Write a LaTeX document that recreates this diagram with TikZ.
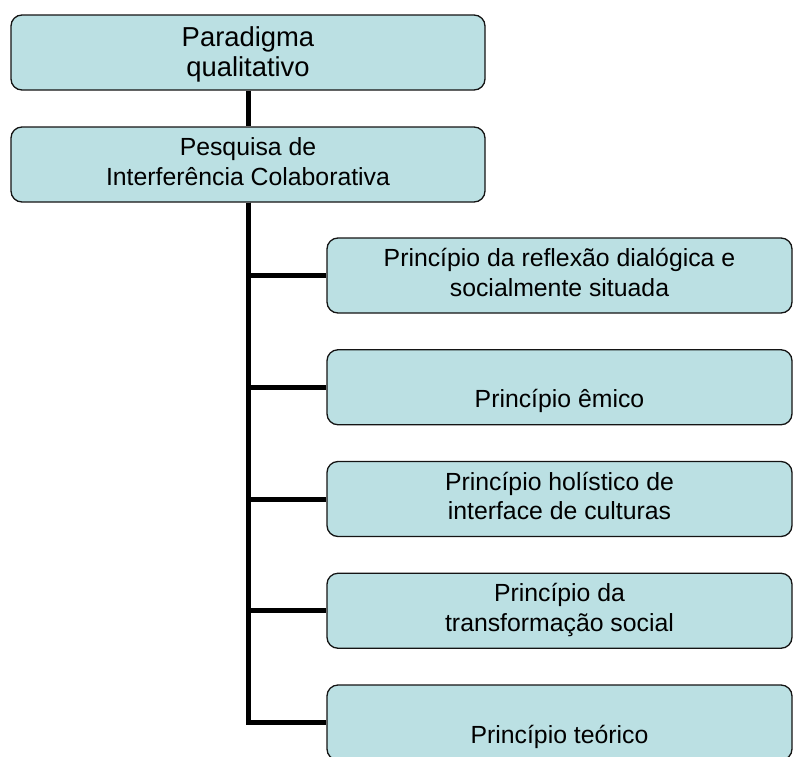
\documentclass[tikz,border=0pt]{standalone}
\usepackage{fontspec}
\setmainfont{Liberation Sans}
\definecolor{boxfill}{RGB}{187,224,227}
\definecolor{boxline}{RGB}{20,20,20}
\newcommand\lineT[1]{\smash{#1}}
\begin{document}
\begin{tikzpicture}[x=1pt,y=-1pt,
  box/.style={draw=boxline, line width=1.3pt, fill=boxfill, rounded corners=11pt,
    inner sep=0pt, font=\fontsize{24.8}{29.3}\selectfont},
  topbox/.style={box, minimum width=474pt, minimum height=75pt},
  childbox/.style={box, minimum width=465pt, minimum height=75pt},
  conn/.style={draw=black, line width=5pt}]
\useasboundingbox (0,0) rectangle (793,756);
\node[topbox, font=\fontsize{27.4}{30}\selectfont] (top1) at (248,52.5) {\begin{tabular}{@{}c@{}}\noalign{\vskip6.6pt}\lineT{Paradigma}\\\lineT{qualitativo}\end{tabular}};
\node[topbox] (top2) at (248,164.5) {\begin{tabular}{@{}c@{}}\lineT{Pesquisa de}\\\lineT{Interferência Colaborativa}\end{tabular}};
\draw[conn] (top1.south) -- (top2.north);
\node[childbox] (c1) at (559.5,275.5) {\begin{tabular}{@{}c@{}}\lineT{Princípio da reflexão dialógica e}\\\lineT{socialmente situada}\end{tabular}};
\node[childbox] (c2) at (559.5,387.25) {\begin{tabular}{@{}c@{}}\lineT{}\\\lineT{Princípio êmico}\end{tabular}};
\node[childbox] (c3) at (559.5,499) {\begin{tabular}{@{}c@{}}\lineT{Princípio holístico de}\\\lineT{interface de culturas}\end{tabular}};
\node[childbox] (c4) at (559.5,610.75) {\begin{tabular}{@{}c@{}}\lineT{Princípio da}\\\lineT{transformação social}\end{tabular}};
\node[childbox] (c5) at (559.5,722.5) {\begin{tabular}{@{}c@{}}\lineT{}\\\lineT{Princípio teórico}\end{tabular}};
\foreach \c in {c1,c2,c3,c4,c5}
  \draw[conn] (top2.south) |- (\c.west);
\end{tikzpicture}
\end{document}
